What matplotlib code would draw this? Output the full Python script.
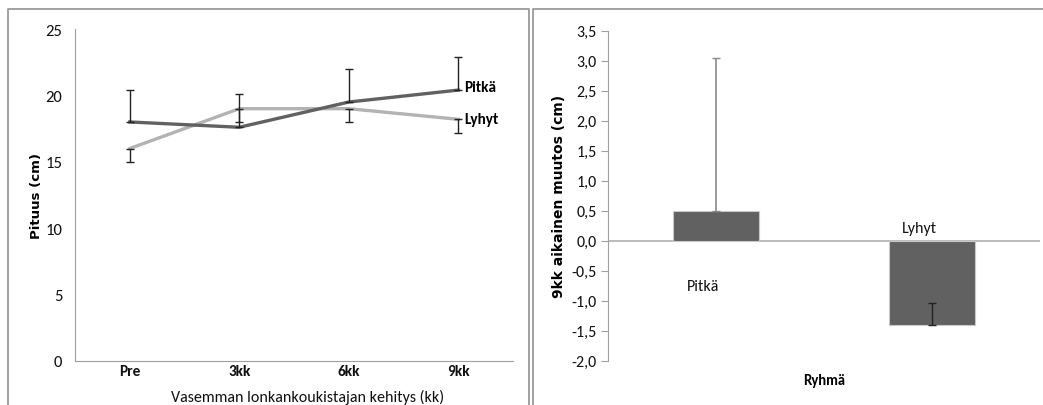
import matplotlib
matplotlib.use("Agg")
import matplotlib.pyplot as plt
from matplotlib.lines import Line2D

plt.rcParams['font.family'] = ['Carlito', 'Lato', 'DejaVu Sans']

# left chart data
months = ['Pre', '3kk', '6kk', '9kk']
pitka = [18.0, 17.6, 19.5, 20.4]
lyhyt = [16.0, 19.0, 19.0, 18.2]
pitka_err_up = [2.4, 2.5, 2.5, 2.5]
lyhyt_err_down = [1.0, 1.0, 1.0, 1.0]

# right chart data
groups = ['Pitkä', 'Lyhyt']
change = [0.5, -1.4]
change_err = [2.55, 0.36]   # drawn upward from the bar end

dark = '#616161'
light = '#b3b3b3'
frame = '#9a9a9a'

fig = plt.figure(figsize=(10.43, 4.06), dpi=100)

# panel frames (open at the bottom)
W, H = 1043, 406
def px(x, y):
    return x / W, 1 - y / H
for pts in ([(8, 420), (8, 10), (529, 10), (529, 420)],
            [(533, 420), (533, 10), (1045, 10)]):
    xs, ys = zip(*[px(*p) for p in pts])
    fig.add_artist(Line2D(xs, ys, color=frame, lw=1.3, transform=fig.transFigure))

# ---------- left: line chart ----------
ax = fig.add_axes([75 / W, 44 / H, 438 / W, 332 / H])
x = range(len(months))
ax.plot(x, pitka, color=dark, lw=2.4, zorder=3)
ax.plot(x, lyhyt, color=light, lw=2.4, zorder=2)
ax.errorbar(x, pitka, yerr=[[0] * 4, pitka_err_up], fmt='none', ecolor='#222222',
            elinewidth=1, capsize=3, capthick=1, zorder=4)
ax.errorbar(x, lyhyt, yerr=[lyhyt_err_down, [0] * 4], fmt='none', ecolor='#222222',
            elinewidth=1, capsize=3, capthick=1, zorder=4)
ax.text(3.055, pitka[-1] + 0.2, 'Pitkä', fontsize=11, fontweight='bold', va='center', ha='left')
ax.text(3.055, lyhyt[-1], 'Lyhyt', fontsize=11, fontweight='bold', va='center', ha='left')

ax.set_xlim(-0.5, 3.5)
ax.set_ylim(0, 25)
ax.set_yticks([0, 5, 10, 15, 20, 25])
ax.set_xticks(list(x))
ax.set_xticklabels(months, fontweight='bold', fontsize=11)
ax.tick_params(length=0, colors='#111111')
ax.tick_params(axis='y', pad=9, labelsize=12)
ax.tick_params(axis='x', pad=2)
for s in ['top', 'right']:
    ax.spines[s].set_visible(False)
for s in ['left', 'bottom']:
    ax.spines[s].set_color('#a0a0a0')
ax.set_ylabel('Pituus (cm)', fontsize=9.5, fontweight='bold', family=['DejaVu Sans'])
ax.yaxis.set_label_coords(-0.072, 0.5)
ax.set_xlabel('Vasemman lonkankoukistajan kehitys (kk)', fontsize=11.5, color='#111111')
ax.xaxis.set_label_coords(0.53, -0.085)

# ---------- right: bar chart ----------
bx = fig.add_axes([608 / W, 44.3 / H, 432 / W, 330 / H])
xb = range(len(groups))
bx.bar(xb, change, width=0.4, color=dark, edgecolor='#c8c8c8', lw=0.8, zorder=2)
bx.errorbar(xb[0], change[0], yerr=[[0], [change_err[0]]], fmt='none', ecolor='#8a8a8a',
            elinewidth=1.2, capsize=3, capthick=1, zorder=3)
bx.errorbar(xb[1], change[1], yerr=[[0], [change_err[1]]], fmt='none', ecolor='#222222',
            elinewidth=1, capsize=3, capthick=1, zorder=3)
bx.axhline(0, color='#b0b0b0', lw=1.2, zorder=1)
bx.text(-0.06, -0.76, groups[0], fontsize=11.5, ha='center', va='center', color='#111111')
bx.text(0.94, 0.21, groups[1], fontsize=11.5, ha='center', va='center', color='#111111')

bx.set_xlim(-0.5, 1.5)
bx.set_ylim(-2.0, 3.5)
yt = [-2.0 + 0.5 * i for i in range(12)]
bx.set_yticks(yt)
bx.set_yticklabels([f'{v:.1f}'.replace('.', ',') for v in yt])
bx.set_xticks([])
bx.tick_params(axis='y', length=5, labelsize=11.5, pad=3)
bx.tick_params(axis='y', colors='#a0a0a0', labelcolor='#111111')
for s in ['top', 'right', 'bottom']:
    bx.spines[s].set_visible(False)
bx.spines['left'].set_color('#a0a0a0')
bx.set_ylabel('9kk aikainen muutos (cm)', fontsize=10, fontweight='bold', family=['DejaVu Sans'])
bx.yaxis.set_label_coords(-0.097, 0.5)
bx.set_xlabel('Ryhmä', fontsize=10.5, fontweight='bold', labelpad=9)

fig.savefig('out.png', dpi=100)
